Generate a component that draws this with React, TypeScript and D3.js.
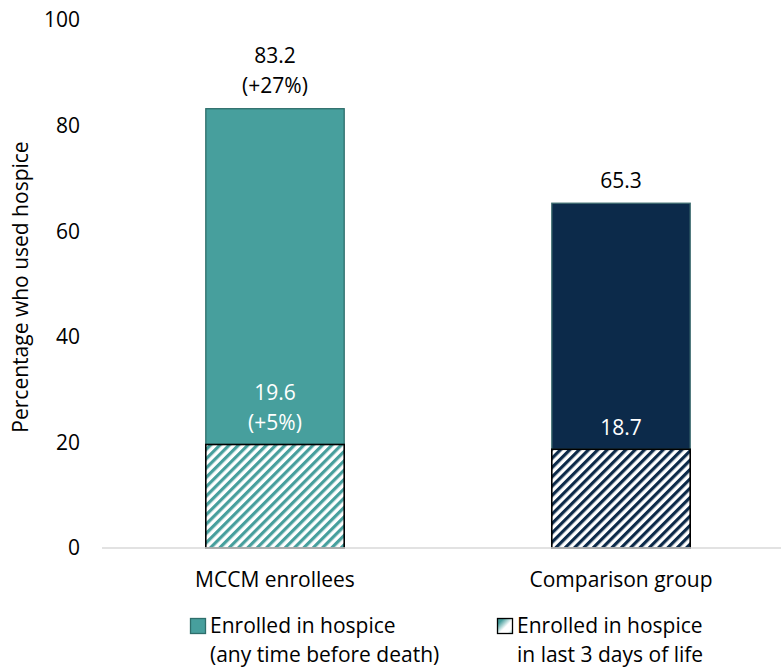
import React from "react";
import * as d3 from "d3";

const categories = ["MCCM enrollees", "Comparison group"];
const anyTime = [83.2, 65.3];
const last3Days = [19.6, 18.7];
const anyTimeLabels = [["83.2", "(+27%)"], ["65.3"]];
const last3Labels = [["19.6", "(+5%)"], ["18.7"]];
const yTicks = [0, 20, 40, 60, 80, 100];
const fills = ["#479f9d", "#0c2a4a"];
const legendLabels = [
  ["Enrolled in hospice", "(any time before death)"],
  ["Enrolled in hospice", "in last 3 days of life"],
];

const W = 781;
const H = 668;
const FONT = "'Open Sans', 'Noto Sans', sans-serif";
const FS = 21;

export default function App() {
  const y = d3.scaleLinear().domain([0, 100]).range([548, 20]);
  const x = d3
    .scaleBand<string>()
    .domain(categories)
    .range([102, 794])
    .paddingInner(0.6)
    .paddingOuter(0.3);
  const bw = x.bandwidth();
  const lineH = 30;

  return (
    <svg width={W} height={H} style={{ display: "block", position: "absolute", left: 0, top: 0 }} fontFamily={FONT}>
      <defs>
        {fills.map((c, i) => (
          <pattern
            key={i}
            id={`hatch${i}`}
            patternUnits="userSpaceOnUse"
            width={6.6}
            height={6.6}
            patternTransform="rotate(45)"
          >
            <rect width={6.6} height={6.6} fill="#ffffff" />
            <rect x={0} width={3.2} height={6.6} fill={c} />
          </pattern>
        ))}
        <filter id="soft">
          <feGaussianBlur stdDeviation="0.55" />
        </filter>
        <linearGradient id="legGrad" x1="0" y1="0" x2="1" y2="1">
          <stop offset="0" stopColor="#3f9794" />
          <stop offset="0.2" stopColor="#479f9d" />
          <stop offset="0.55" stopColor="#ffffff" />
          <stop offset="0.8" stopColor="#ffffff" />
          <stop offset="1" stopColor="#9fcfcd" />
        </linearGradient>
      </defs>
      <rect width={W} height={H} fill="#ffffff" />

      {/* y-axis tick labels */}
      {yTicks.map((t) => (
        <text
          key={t}
          x={80}
          y={y(t)}
          dy="0.35em"
          textAnchor="end"
          fontSize={FS}
          fill="#000"
        >
          {t}
        </text>
      ))}
      <text
        transform={`translate(21, ${y(50) + 3}) rotate(-90)`}
        textAnchor="middle"
        dy="0.35em"
        fontSize={FS}
        fill="#000"
      >
        Percentage who used hospice
      </text>

      {/* bars */}
      {categories.map((c, i) => {
        const x0 = x(c)!;
        return (
          <g key={c}>
            <rect
              x={x0}
              y={y(anyTime[i])}
              width={bw}
              height={y(last3Days[i]) - y(anyTime[i])}
              fill={fills[i]}
              stroke={i === 0 ? "#2e6e6b" : "#3d6b6f"}
              strokeWidth={1.3}
            />
            <rect
              x={x0}
              y={y(last3Days[i])}
              width={bw}
              height={y(0) - y(last3Days[i])}
              fill={`url(#hatch${i})`}
              filter="url(#soft)"
            />
            <rect
              x={x0}
              y={y(last3Days[i])}
              width={bw}
              height={y(0) - y(last3Days[i])}
              fill="none"
              stroke="#000"
              strokeWidth={1.6}
            />
            {anyTimeLabels[i].map((s, k, arr) => (
              <text
                key={k}
                x={x0 + bw / 2}
                y={y(anyTime[i]) - 23 - (arr.length - 1 - k) * lineH}
                dy="0.35em"
                textAnchor="middle"
                fontSize={FS}
                fill="#000"
              >
                {s}
              </text>
            ))}
            {last3Labels[i].map((s, k, arr) => (
              <text
                key={k}
                x={x0 + bw / 2}
                y={y(last3Days[i]) - 22 - (arr.length - 1 - k) * lineH}
                dy="0.35em"
                textAnchor="middle"
                fontSize={FS}
                fill="#fff"
              >
                {s}
              </text>
            ))}
            <text
              x={x0 + bw / 2}
              y={580}
              dy="0.35em"
              textAnchor="middle"
              fontSize={FS}
              fill="#000"
            >
              {c}
            </text>
          </g>
        );
      })}

      {/* baseline */}
      <line x1={102} x2={W} y1={y(0)} y2={y(0)} stroke="#d9d9d9" strokeWidth={1.5} />

      {/* legend */}
      {legendLabels.map((lines, i) => {
        const lx = i === 0 ? 190 : 497;
        return (
          <g key={i}>
            <rect
              x={lx + 0.5}
              y={618.5}
              width={15}
              height={15}
              fill={i === 0 ? fills[0] : "url(#legGrad)"}
              stroke={i === 0 ? "#2e6e6b" : "#000"}
              strokeWidth={1.3}
            />
            {lines.map((s, k) => (
              <text
                key={k}
                x={lx + 20}
                y={626 + k * 29}
                dy="0.35em"
                fontSize={FS}
                fill="#000"
              >
                {s}
              </text>
            ))}
          </g>
        );
      })}
    </svg>
  );
}
